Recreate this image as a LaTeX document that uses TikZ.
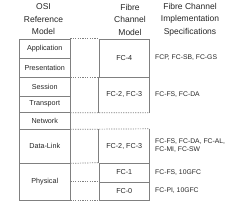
\documentclass[tikz,border=0pt]{standalone}
\usepackage{fontspec}
\setmainfont{Liberation Sans}
\begin{document}
\begin{tikzpicture}[x=1pt,y=-1pt,
  cell/.style={draw=linegray, line width=0.7pt, minimum width=50.5pt, inner sep=0pt, font=\fontsize{7.2}{8.5}\selectfont, text=textgray},
  bare/.style={minimum width=50.5pt, inner sep=0pt, font=\fontsize{7.2}{8.5}\selectfont, text=textgray},
  side/.style={draw=linegray, line width=0.7pt},
  dotline/.style={draw=linegray, line width=0.7pt, dash pattern=on 1.2pt off 1.2pt},
  head/.style={align=center, font=\fontsize{8.5}{12.5}\selectfont, text=textgray, inner sep=0pt},
  spec/.style={anchor=west, align=left, font=\fontsize{6.8}{8}\selectfont, text=textgray, inner sep=0pt}]
\definecolor{linegray}{HTML}{808080}
\definecolor{textgray}{HTML}{262626}
\useasboundingbox (0,0) rectangle (237,213);
% headers
\node[head] (h1) at (43.5,19.5) {OSI\\Reference\\Model};
\node[head] (h2) at (130,19.5) {Fibre\\Channel\\Model};
\node[head] (h3) at (190,19.5) {Fibre Channel\\Implementation\\Specifications};
% OSI column
\node[cell, minimum height=19pt] (app) at (44.75,48.5) {Application};
\node[cell, minimum height=19pt] (pres) at (44.75,67.5) {Presentation};
\node[cell, minimum height=19pt] (sess) at (44.75,86.5) {Session};
\node[cell, minimum height=16.5pt] (trans) at (44.75,104.25) {Transport};
\node[cell, minimum height=16.5pt] (net) at (44.75,120.75) {Network};
\node[cell, minimum height=34pt] (dl) at (44.75,146) {Data-Link};
\node[cell, minimum height=37pt] (phys) at (44.75,181.5) {Physical};
% Fibre Channel column
\node[cell, minimum height=38pt] (fc4) at (124.25,58) {FC-4};
\node[bare, minimum height=35.5pt] (fcA) at (124.25,94.75) {FC-2, FC-3};
\node[bare, minimum height=34pt] (fcB) at (124.25,146) {FC-2, FC-3};
\node[cell, minimum height=19pt] (fc1) at (124.25,172.5) {FC-1};
\node[cell, minimum height=18pt] (fc0) at (124.25,191) {FC-0};
\draw[side] (fcA.south west) -- (fcA.north west) (fcA.south east) -- (fcA.north east);
\draw[side] (fcB.south west) -- (fcB.north west) (fcB.south east) -- (fcB.north east);
% dotted connectors
\draw[dotline] (app.north east) -- (fc4.north west);
\draw[dotline] (pres.south east) -- (fc4.south west);
\draw[dotline] (trans.south east) -- (fcA.south east);
\draw[dotline] (net.south east) -- (fcB.north east);
\draw[dotline] (dl.south east) -- (fc1.north west);
\draw[dotline] (phys.east |- fc0.north) -- (fc0.north west);
\draw[dotline] (phys.south east) -- (fc0.south west);
% specifications
\node[spec] (s1) at (155,58) {FCP, FC-SB, FC-GS};
\node[spec] (s2) at (155,94.5) {FC-FS, FC-DA};
\node[spec] (s3) at (155,145.5) {FC-FS, FC-DA, FC-AL,\\FC-MI, FC-SW};
\node[spec] (s4) at (155,172.5) {FC-FS, 10GFC};
\node[spec] (s5) at (155,191) {FC-PI, 10GFC};
\end{tikzpicture}
\end{document}
